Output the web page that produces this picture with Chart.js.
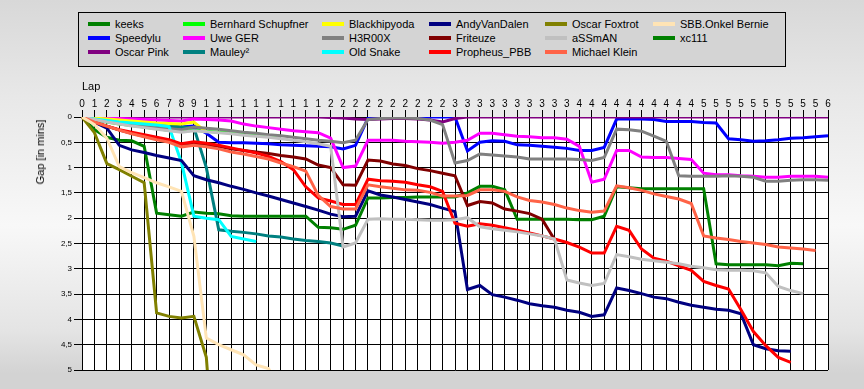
<!DOCTYPE html>
<html lang="en">
<head>
<meta charset="UTF-8">
<title>Lap chart - Gap</title>
<script src="https://cdn.jsdelivr.net/npm/chart.js@4.4.1/dist/chart.umd.min.js"></script>
<style>
    * { margin: 0; padding: 0; box-sizing: border-box; }

    body {
        width: 864px;
        height: 389px;
        overflow: hidden;
        font-family: 'Liberation Sans', Arial, sans-serif;
        background: linear-gradient(180deg, #d8d8d8 0%, #e8e8e8 25%, #f8f8f8 58%, #e4e4e4 85%, #d3d3d3 96%, #d3d3d3 100%);
    }

    .wrap { position: relative; width: 864px; height: 389px; }
    canvas { position: absolute; left: 0; top: 0; }

    .legend {
        position: absolute;
        left: 78px;
        top: 12px;
        width: 708px;
        height: 55px;
        border: 1px solid #000;
        background: #d4d4d4;
        padding: 4px 0 0 9px;
        display: grid;
        grid-auto-flow: column;
        grid-template-rows: repeat(3, 14px);
        grid-template-columns: 95px 139px 107px 116px 108px auto;
    }

    .item {
        display: flex;
        align-items: center;
        font-size: 11px;
        color: #000;
        white-space: nowrap;
    }

    .item i {
        display: inline-block;
        width: 22px;
        height: 4px;
        margin-right: 5px;
    }

    /* y axis title, top aligned like the original */
    .ytitle {
        position: absolute;
        left: 40px;
        top: 152px;
        transform: translate(-50%, -50%) rotate(-90deg);
        font-size: 11px;
        color: #000;
        white-space: nowrap;
    }
</style>
</head>
<body>
<div class="wrap">
    <canvas id="chart" width="864" height="389"></canvas>
    <div class="legend" id="legend"></div>
    <div class="ytitle">Gap [in mins]</div>
</div>

<script>
// laps (x axis)
const laps = [0, 1, 2, 3, 4, 5, 6, 7, 8, 9,
    10, 11, 12, 13, 14, 15, 16, 17, 18, 19,
    20, 21, 22, 23, 24, 25, 26, 27, 28, 29,
    30, 31, 32, 33, 34, 35, 36, 37, 38, 39,
    40, 41, 42, 43, 44, 45, 46, 47, 48, 49,
    50, 51, 52, 53, 54, 55, 56, 57, 58, 59, 60];

// gap to leader in minutes, one value per lap
const keeks = [0, 0.25, 0.4, 0.46, 0.47, 0.58, 1.9, 1.93, 1.96, 1.88,
    1.9, 1.91, 1.95, 1.96, 1.96, 1.96, 1.96, 1.96, 1.96, 2.18,
    2.19, 2.22, 2.14, 1.6, 1.6, 1.59, 1.59, 1.58, 1.58, 1.58,
    1.58, 1.5, 1.37, 1.37, 1.44, 2.02, 2.02, 2.02, 2.02, 2.02,
    2.03, 2.03, 1.96, 1.38, 1.4, 1.42, 1.42, 1.42, 1.42, 1.42,
    1.42, 2.9, 2.92, 2.92, 2.92, 2.92, 2.94, 2.89, 2.9];
const speedylu = [0, 0.03, 0.06, 0.09, 0.11, 0.13, 0.15, 0.17, 0.2, 0.18,
    0.32, 0.5, 0.51, 0.51, 0.52, 0.53, 0.55, 0.56, 0.57, 0.58,
    0.59, 0.63, 0.56, 0.02, 0.01, 0, 0, 0, 0, 0,
    0, 0.67, 0.5, 0.47, 0.48, 0.55, 0.56, 0.58, 0.6, 0.62,
    0.66, 0.66, 0.6, 0.04, 0.04, 0.04, 0.05, 0.09, 0.09, 0.09,
    0.11, 0.12, 0.43, 0.45, 0.48, 0.47, 0.45, 0.42, 0.41, 0.39, 0.37];
const oscarPink = [0, 0, 0, 0, 0, 0, 0, 0, 0, 0,
    0, 0, 0, 0, 0, 0, 0, 0, 0, 0,
    0.01, 0.02, 0.04, 0.05, 0.04, 0.03, 0.03, 0.04, 0.06, 0.1,
    0.03, 0, 0, 0, 0, 0, 0, 0, 0, 0,
    0, 0, 0, 0, 0, 0, 0, 0, 0, 0,
    0, 0, 0, 0, 0, 0, 0, 0, 0, 0, 0];
const bernhard = [0, 0.05, 0.1, 0.14, 0.17, 0.2, 0.23, 0.26, 0.28, 0.26,
    0.28, 0.3, 0.31, 0.33, 0.35, 0.37, 0.38];
const uweGer = [0, 0.01, 0.02, 0.03, 0.04, 0.05, 0.06, 0.07, 0.08, 0.04,
    0.05, 0.06, 0.08, 0.14, 0.18, 0.21, 0.24, 0.27, 0.29, 0.31,
    0.42, 1.0, 0.97, 0.46, 0.46, 0.46, 0.48, 0.49, 0.5, 0.52,
    0.5, 0.46, 0.32, 0.32, 0.35, 0.38, 0.39, 0.41, 0.41, 0.44,
    0.58, 1.29, 1.23, 0.66, 0.66, 0.79, 0.8, 0.8, 0.82, 0.84,
    1.11, 1.14, 1.14, 1.16, 1.17, 1.19, 1.19, 1.17, 1.17, 1.17, 1.19];
const mauley = [0, 0.05, 0.09, 0.12, 0.14, 0.16, 0.17, 0.18, 0.2, 0.21,
    1.0, 2.23, 2.26, 2.28, 2.31, 2.35, 2.37, 2.41, 2.44, 2.46,
    2.49, 2.55];
const blackhipyoda = [0, 0.02, 0.04, 0.06, 0.08, 0.1, 0.12, 0.13, 0.14, 0.1, 0.3];
const h3r00x = [0, 0.05, 0.09, 0.12, 0.15, 0.18, 0.21, 0.23, 0.25, 0.2,
    0.22, 0.24, 0.27, 0.3, 0.32, 0.35, 0.37, 0.4, 0.43, 0.46,
    0.48, 0.51, 0.46, 0.05, 0.03, 0.02, 0.02, 0.03, 0.06, 0.15,
    0.91, 0.86, 0.73, 0.75, 0.77, 0.79, 0.83, 0.83, 0.83, 0.83,
    0.84, 0.86, 0.8, 0.24, 0.25, 0.28, 0.38, 0.48, 1.16, 1.17,
    1.17, 1.17, 1.16, 1.17, 1.19, 1.27, 1.27, 1.25, 1.24, 1.24, 1.25];
const oldSnake = [0, 0.04, 0.07, 0.1, 0.12, 0.14, 0.16, 0.19, 0.9, 1.96,
    2.0, 2.03, 2.36, 2.41, 2.46];
const andyVanDalen = [0, 0.1, 0.22, 0.56, 0.65, 0.7, 0.76, 0.81, 0.86, 1.16,
    1.24, 1.3, 1.37, 1.43, 1.5, 1.56, 1.63, 1.7, 1.77, 1.84,
    1.92, 1.97, 1.96, 1.46, 1.54, 1.58, 1.63, 1.68, 1.73, 1.8,
    1.87, 3.41, 3.33, 3.51, 3.56, 3.62, 3.69, 3.73, 3.76, 3.82,
    3.86, 3.94, 3.91, 3.38, 3.43, 3.49, 3.56, 3.59, 3.66, 3.72,
    3.76, 3.8, 3.82, 3.89, 4.5, 4.58, 4.62, 4.63];
const friteuze = [0, 0.1, 0.18, 0.26, 0.32, 0.38, 0.43, 0.48, 0.55, 0.53,
    0.55, 0.58, 0.63, 0.66, 0.69, 0.72, 0.76, 0.79, 0.83, 0.95,
    1.0, 1.34, 1.35, 0.85, 0.87, 0.93, 0.96, 1.02, 1.06, 1.11,
    1.16, 1.75, 1.67, 1.7, 1.82, 1.86, 1.91, 2.02, 2.42];
const propheus = [0, 0.1, 0.18, 0.25, 0.3, 0.35, 0.4, 0.45, 0.53, 0.49,
    0.52, 0.56, 0.61, 0.66, 0.71, 0.78, 0.88, 1.04, 1.38, 1.6,
    1.66, 1.73, 1.73, 1.23, 1.26, 1.27, 1.29, 1.34, 1.38, 1.47,
    2.1, 2.16, 2.11, 2.14, 2.19, 2.24, 2.29, 2.35, 2.41, 2.48,
    2.57, 2.69, 2.69, 2.16, 2.24, 2.61, 2.79, 2.85, 2.94, 3.03,
    3.25, 3.33, 3.4, 3.81, 4.24, 4.52, 4.75, 4.85];
const oscarFoxtrot = [0, 0.31, 0.92, 1.04, 1.17, 1.3, 3.87, 3.94, 3.97, 3.94, 4.75, 8];
const assman = [0, 0.05, 0.1, 0.14, 0.18, 0.21, 0.24, 0.27, 0.3, 0.27,
    0.29, 0.31, 0.33, 0.36, 0.38, 0.4, 0.43, 0.46, 0.49, 0.53,
    0.58, 2.57, 2.49, 2.02, 2.01, 2.02, 2.02, 2.03, 2.04, 2.04,
    2.03, 1.99, 2.17, 2.21, 2.24, 2.27, 2.31, 2.35, 2.41, 3.22,
    3.28, 3.33, 3.29, 2.72, 2.76, 2.81, 2.84, 2.87, 2.9, 2.95,
    2.98, 3.02, 3.03, 3.03, 3.04, 3.08, 3.35, 3.43, 3.49];
const michaelKlein = [0, 0.1, 0.18, 0.26, 0.33, 0.39, 0.45, 0.5, 0.59, 0.56,
    0.59, 0.63, 0.69, 0.73, 0.78, 0.83, 0.91, 0.98, 1.07, 1.55,
    1.77, 1.82, 1.82, 1.34, 1.38, 1.41, 1.44, 1.45, 1.49, 1.56,
    1.56, 1.55, 1.44, 1.44, 1.47, 1.58, 1.65, 1.68, 1.73, 1.8,
    1.85, 1.88, 1.86, 1.36, 1.4, 1.45, 1.52, 1.57, 1.62, 1.71,
    2.35, 2.39, 2.42, 2.46, 2.49, 2.52, 2.57, 2.59, 2.61, 2.64];
const onkelBernie = [0, 0.15, 0.42, 0.98, 1.1, 1.2, 1.3, 1.38, 1.47, 2.36,
    4.37, 4.5, 4.6, 4.7, 4.9, 4.97, 5.4];
const xc111 = [];

// y ticks 0 .. 5 every half minute
const gapTicks = [0, 0.5, 1, 1.5, 2, 2.5, 3, 3.5, 4, 4.5, 5];

const names = ['keeks', 'Speedylu', 'Oscar Pink', 'Bernhard Schupfner', 'Uwe GER', 'Mauley²',
    'Blackhipyoda', 'H3R00X', 'Old Snake', 'AndyVanDalen', 'Friteuze', 'Propheus_PBB',
    'Oscar Foxtrot', 'aSSmAN', 'Michael Klein', 'SBB.Onkel Bernie', 'xc111'];
const values = [keeks, speedylu, oscarPink, bernhard, uweGer, mauley,
    blackhipyoda, h3r00x, oldSnake, andyVanDalen, friteuze, propheus,
    oscarFoxtrot, assman, michaelKlein, onkelBernie, xc111];
const colors = ['#008000', '#0000ff', '#800080', '#00ff00', '#ff00ff', '#008080',
    '#ffff00', '#808080', '#00ffff', '#000080', '#800000', '#ff0000',
    '#808000', '#c0c0c0', '#ff6347', '#ffe4b5', '#008000'];

const datasets = names.map((name, i) => ({
    label: name,
    data: values[i],
    borderColor: colors[i],
    backgroundColor: colors[i],
    borderWidth: 3,
    pointRadius: 0,
    fill: false,
    tension: 0,
    order: -i      // later series are drawn on top
}));

// legend (column by column, three rows)
const legend = document.getElementById('legend');
names.forEach((name, i) => {
    const el = document.createElement('div');
    el.className = 'item';
    el.innerHTML = `<i style="background:${colors[i]}"></i><span>${name}</span>`;
    legend.appendChild(el);
});

// white plot area
const plotBackground = {
    id: 'plotBackground',
    beforeDraw(chart) {
        const { ctx, chartArea: a } = chart;
        ctx.save();
        ctx.fillStyle = '#ffffff';
        ctx.fillRect(a.left, a.top, a.right - a.left, a.bottom - a.top);
        ctx.restore();
    }
};

new Chart(document.getElementById('chart'), {
    type: 'line',
    data: { labels: laps, datasets: datasets },
    options: {
        responsive: false,
        animation: false,
        devicePixelRatio: 1,
        layout: { padding: { top: 70, right: 36, bottom: 19, left: 0 } },
        plugins: {
            legend: { display: false },
            tooltip: { enabled: false }
        },
        scales: {
            x: {
                position: 'top',
                offset: false,
                grid: { color: '#000', lineWidth: 1, tickLength: 7 },
                border: { color: '#000', width: 1 },
                ticks: {
                    autoSkip: false,
                    maxRotation: 0,
                    padding: 0,
                    color: '#000',
                    font: { family: 'Liberation Sans', size: 10 },
                    // long labels are cut to their first digit, as in the original
                    callback: function (v) { return String(this.getLabelForValue(v)).charAt(0); }
                },
                title: {
                    display: true,
                    text: 'Lap',
                    align: 'start',
                    color: '#000',
                    font: { family: 'Liberation Sans', size: 11 },
                    padding: { top: 10, bottom: 0 }
                },
                afterFit: s => { s.height = 47; }
            },
            y: {
                reverse: true,
                min: 0,
                max: 5,
                afterBuildTicks: s => { s.ticks = gapTicks.map(v => ({ value: v })); },
                grid: { color: '#000', lineWidth: 1, tickLength: 8 },
                border: { color: '#000', width: 1 },
                ticks: {
                    padding: 2,
                    color: '#000',
                    font: { family: 'Liberation Sans', size: 8 },
                    callback: v => String(v).replace('.', ',')
                },
                afterFit: s => { s.width = 82; }
            }
        }
    },
    plugins: [plotBackground]
});
</script>
</body>
</html>
